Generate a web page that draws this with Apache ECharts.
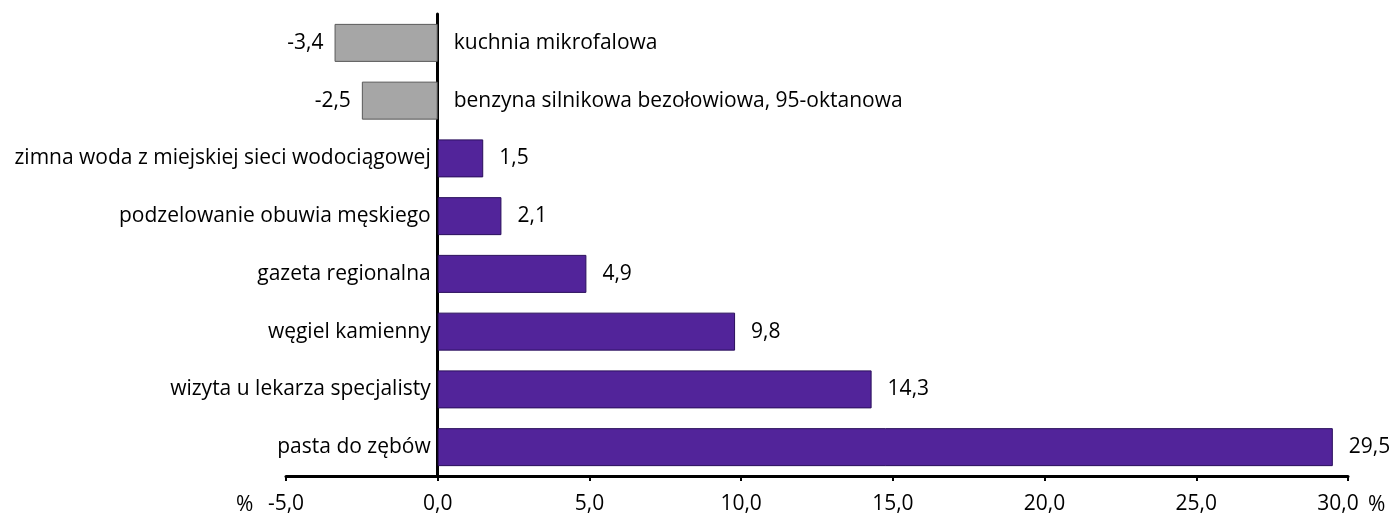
<!DOCTYPE html>
<html>
<head>
<meta charset="utf-8">
<script src="https://cdn.jsdelivr.net/npm/echarts@6/dist/echarts.min.js"></script>
<style>
  html, body { margin: 0; padding: 0; background: #fff; }
  #chart { width: 1393px; height: 515px; }
</style>
</head>
<body>
<div id="chart"></div>
<script>
// categories from bottom to top
const categories = [
    'pasta do zębów',
    'wizyta u lekarza specjalisty',
    'węgiel kamienny',
    'gazeta regionalna',
    'podzelowanie obuwia męskiego',
    'zimna woda z miejskiej sieci wodociągowej',
    'benzyna silnikowa bezołowiowa, 95-oktanowa',
    'kuchnia mikrofalowa'
];
const values = [29.5, 14.3, 9.8, 4.9, 2.1, 1.5, -2.5, -3.4];
const xTicks = { min: -5, max: 30, step: 5 };
const unitLabel = '%';

const FONT = '"Open Sans", sans-serif';
const FS = 21;
const fmt = v => v.toFixed(1).replace('.', ',');

const chart = echarts.init(document.getElementById('chart'));
const GRID_LEFT = 286;

const option = {
    animation: false,
    textStyle: { fontFamily: FONT },
    grid: { left: GRID_LEFT, right: 45, top: 14, bottom: 39, containLabel: false, outerBoundsMode: 'none' },
    xAxis: {
        type: 'value',
        min: xTicks.min,
        max: xTicks.max,
        interval: xTicks.step,
        splitLine: { show: false },
        axisLine: { show: true, onZero: false, lineStyle: { color: '#000', width: 3 } },
        axisTick: { show: true, length: 5, lineStyle: { color: '#000', width: 2 } },
        axisLabel: {
            color: '#000', fontSize: FS, fontFamily: FONT, margin: 18,
            // last label sits a little to the left, leaving room for the unit
            formatter: v => v === xTicks.max ? '{last|' + fmt(v) + '}' : fmt(v),
            rich: { last: { fontSize: FS, fontFamily: FONT, color: '#000', padding: [0, 20, 0, 0] } }
        }
    },
    yAxis: [
        {
            type: 'category',
            data: categories,
            position: 'left',
            axisLine: { show: true, onZero: false, lineStyle: { color: '#000', width: 3 } },
            axisTick: { show: false },
            axisLabel: {
                color: '#000', fontSize: FS, fontFamily: FONT, margin: 7,
                formatter: (name, idx) => values[idx] >= 0 ? name : ''
            }
        },
        {
            type: 'category',
            data: categories,
            position: 'left',
            axisLine: { show: false, onZero: false },
            axisTick: { show: false },
            axisLabel: {
                inside: true,
                color: '#000', fontSize: FS, fontFamily: FONT, margin: 16,
                formatter: (name, idx) => values[idx] < 0 ? name : ''
            }
        }
    ],
    series: [{
        type: 'bar',
        yAxisIndex: 0,
        barWidth: 38,
        data: values.map(v => ({
            value: v,
            itemStyle: v < 0
                ? { color: '#a6a6a6', borderColor: '#595959', borderWidth: 1 }
                : { color: '#52249a', borderColor: '#2a0f5c', borderWidth: 1 },
            label: v < 0
                ? { position: 'left', distance: 11 }
                : { position: 'right', distance: 16 }
        })),
        label: {
            show: true,
            color: '#000',
            fontSize: FS,
            fontFamily: FONT,
            formatter: p => fmt(p.value)
        }
    }],
    graphic: [
        { type: 'text', left: 236, top: 495, style: { text: unitLabel, fontSize: FS, fontFamily: FONT, fill: '#000' } },
        { type: 'text', left: 1368, top: 495, style: { text: unitLabel, fontSize: FS, fontFamily: FONT, fill: '#000' } }
    ]
};

chart.setOption(option);

// move the category axis onto the zero line of the value axis
const zeroX = chart.convertToPixel({ xAxisIndex: 0 }, 0);
const shift = -(zeroX - GRID_LEFT);
chart.setOption({ yAxis: [{ offset: shift }, { offset: shift }] });
</script>
</body>
</html>
